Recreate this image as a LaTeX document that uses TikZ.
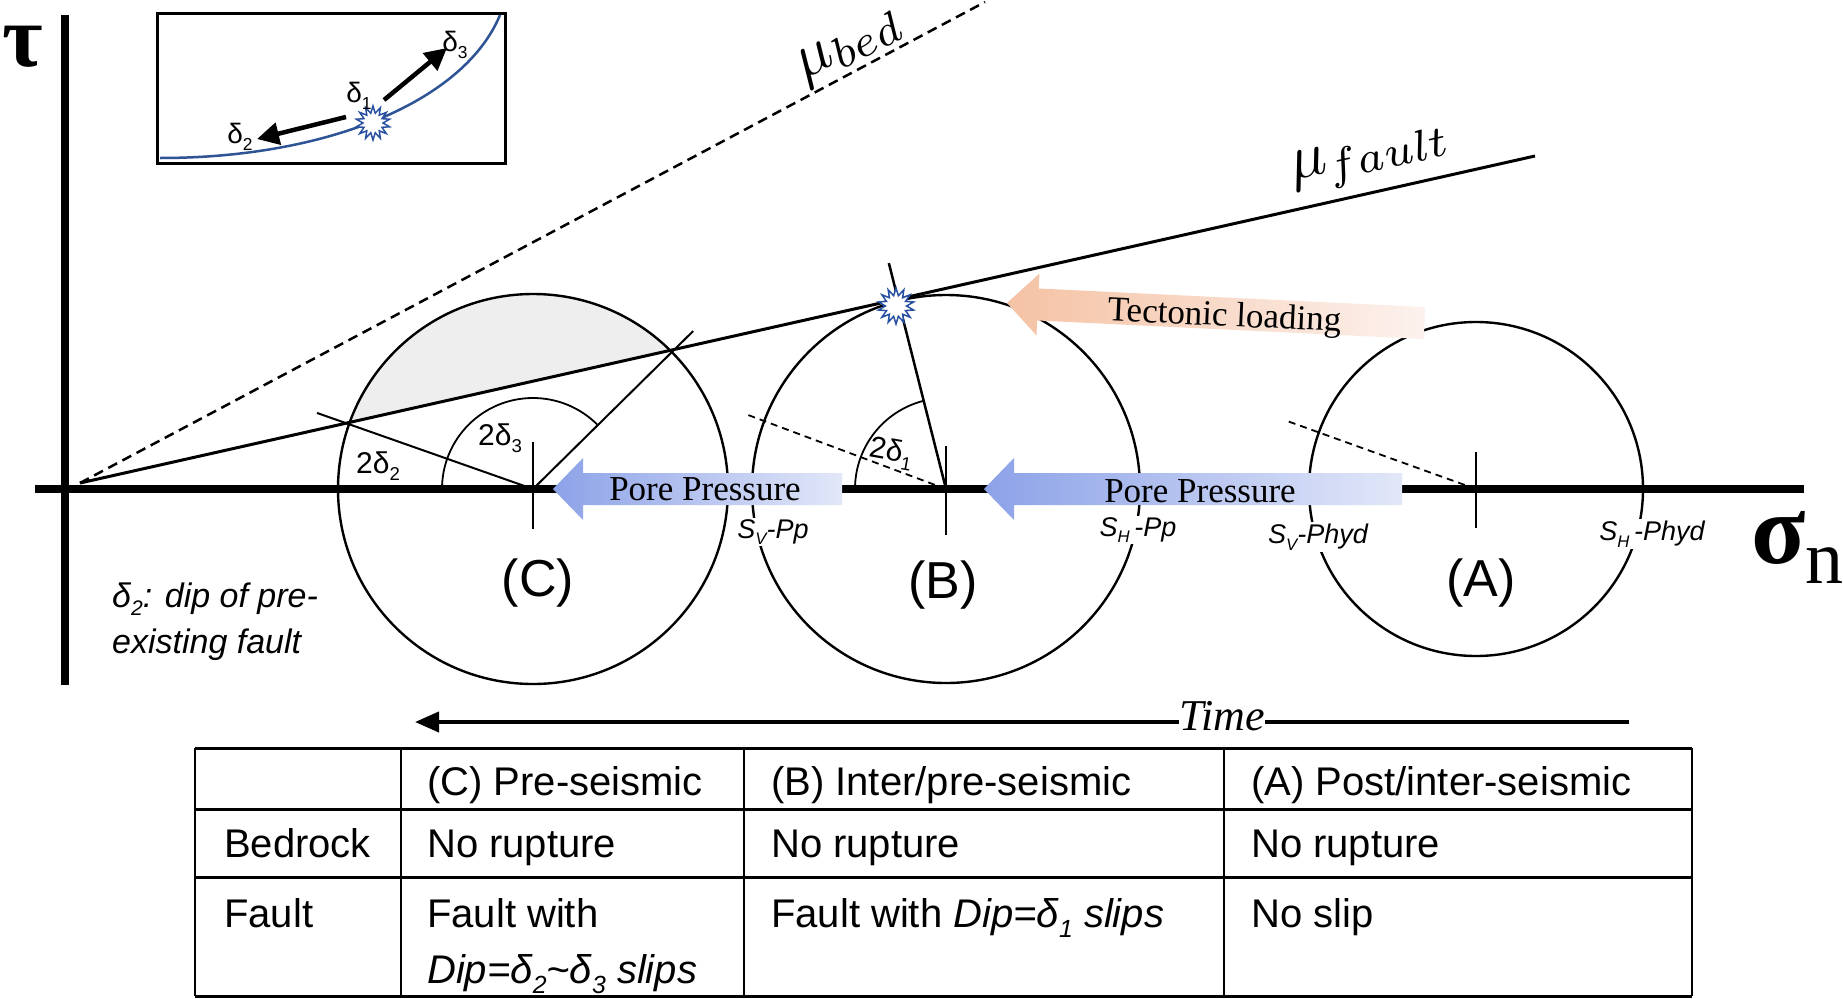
\documentclass[tikz,border=0pt]{standalone}
\usepackage{graphicx}
\usepackage{fontspec}
\setmainfont{Liberation Serif}
\newfontfamily\arialf{Liberation Sans}
\newfontfamily\tnrf{Liberation Serif}
\usetikzlibrary{arrows.meta,shapes.geometric}
\definecolor{ppA}{RGB}{140,162,232}
\definecolor{ppB}{RGB}{226,231,248}
\definecolor{tlA}{RGB}{245,194,164}
\definecolor{tlB}{RGB}{252,242,238}
\definecolor{curveblue}{RGB}{46,84,150}
\definecolor{starblue}{RGB}{40,80,160}
\newcommand\fsz[1]{\fontsize{#1}{#1}\selectfont}
\newcommand\sbx[1]{\raisebox{-0.25em}{\scalebox{0.62}{#1}}}
\begin{document}
\begin{tikzpicture}[x=1pt,y=-1pt,
  axisline/.style={line width=8pt},
  circ/.style={line width=2.4pt},
  thinln/.style={line width=1.8pt},
  dashln/.style={line width=1.8pt, dash pattern=on 7pt off 5pt},
  slabel/.style={font=\arialf\itshape\fsz{27}, fill=white, inner sep=1.5pt},
  plabel/.style={font=\arialf\fsz{52}},
  anglab/.style={font=\arialf\fsz{30}, inner sep=0pt},
  greeklab/.style={font=\arialf\fsz{28}, inner sep=0pt},
  cell/.style={font=\arialf\fsz{40}, anchor=base west, inner sep=0pt},
  tline/.style={line width=3pt},
  vline/.style={line width=2.5pt},
  burst/.style={star, star points=14, star point ratio=1.7, minimum size=36pt, draw=starblue, fill=white, line width=1.5pt, inner sep=0pt},
  arrtext/.style={font=\tnrf\fsz{35}, inner sep=0pt},
  blackarrow/.style={line width=4.5pt, -{Triangle[length=22pt,width=22pt]}},
  mulabel/.style={inner sep=0pt, draw=none},
]
\useasboundingbox (0,0) rectangle (1843,998);
\fill[white] (0,0) rectangle (1843,998);

% key points
\coordinate (O) at (80,483);
\coordinate (Cc) at (533,489);
\coordinate (Bc) at (946,489);
\coordinate (Ac) at (1476,489);

% shaded segment of circle C above the fault line
\fill[gray!13] (Cc) ++(-45:195) arc[start angle=-45, end angle=-160, radius=195] -- cycle;

% axes
\coordinate (xL) at (35,489); \coordinate (xR) at (1804,489);
\coordinate (yT) at (65,15); \coordinate (yB) at (65,685);
\draw[axisline] (xL) -- (xR);
\draw[axisline] (yT) -- (yB);
\node[font=\tnrf\bfseries\fsz{88}, inner sep=0pt] (tau) at (23,47) {τ};
\node[font=\tnrf\bfseries\fsz{100}, inner sep=0pt, anchor=base] (sig) at (1779,563) {σ};
\node[font=\tnrf\fsz{76}, inner sep=0pt, anchor=base west] (sign) at (1805,583) {n};

% friction envelopes
\coordinate (bedEnd) at (985,2);
\coordinate (fltEnd) at (1535,156);
\draw[line width=2.5pt, dash pattern=on 10pt off 6pt] (O) -- (bedEnd);
\draw[line width=3pt] (O) -- (fltEnd);
\node[mulabel, rotate=28] (mubed) at (850,47) {\fsz{10}\scalebox{6.3}{$\mu_{bed}$}};
\node[mulabel, rotate=12.7] (mufault) at (1371,158) {\fsz{10}\scalebox{6.3}{$\mu_{fault}$}};

% Mohr circles
\draw[circ] (Cc) circle[radius=195];
\draw[circ] (Bc) circle[radius=194];
\draw[circ] (Ac) circle[radius=167];

% radial lines
\draw[line width=2pt] (Cc) -- ++(-160.6:229) coordinate (Cd2);
\draw[line width=2pt] (Cc) -- ++(-44.6:225) coordinate (Cd3);
\draw[line width=2.5pt] (Bc) -- ++(-104.2:233) coordinate (Bd1);
\draw[dashln] (Bc) -- ++(-159.5:214) coordinate (Bdash);
\draw[dashln] (Ac) -- ++(-160.2:201) coordinate (Adash);

% angle arcs
\draw[thinln] (Cc) ++(-180:91) arc[start angle=-180, end angle=-45, radius=91];
\draw[thinln] (Bc) ++(-180:91) arc[start angle=-180, end angle=-104.2, radius=91];

% centre ticks
\draw[thinln] (Cc) ++(0,-47) -- ++(0,87);
\draw[thinln] (Bc) ++(0,-43) -- ++(0,89);
\draw[thinln] (Ac) ++(0,-37) -- ++(0,76);

% angle labels
\node[anglab] (l2d2) at (378,466) {2δ\sbx{2}};
\node[anglab] (l2d3) at (500,438) {2δ\sbx{3}};
\node[anglab, rotate=-10] (l2d1) at (891,453) {2δ\sbx{1}};

% stress labels (white background cuts the circles)
\node[slabel] (svpp) at (773,532) {S\sbx{V}-Pp};
\node[slabel] (shpp) at (1138,530) {S\sbx{H}\,-Pp};
\node[slabel] (svph) at (1318,537) {S\sbx{V}-Phyd};
\node[slabel] (shph) at (1652,534) {S\sbx{H}\,-Phyd};

% circle names
\node[plabel] (labC) at (538,583) {(C)};
\node[plabel] (labB) at (943,585) {(B)};
\node[plabel] (labA) at (1481,583) {(A)};

% pore pressure arrows
\shade[left color=ppA, right color=ppB] (553,489) -- (583,458) -- (583,473) -- (842,473) -- (842,505) -- (583,505) -- (583,520) -- cycle;
\shade[left color=ppA, right color=ppB] (984,489) -- (1014,458) -- (1014,473) -- (1402,473) -- (1402,505) -- (1014,505) -- (1014,520) -- cycle;
\node[arrtext] (pp1) at (705,489) {Pore Pressure};
\node[arrtext] (pp2) at (1200,491) {Pore Pressure};

% tectonic loading arrow
\begin{scope}[shift={(1007,303)}, rotate=-2.75]
\shade[left color=tlA, right color=tlB] (0,0) -- (31,-31) -- (31,-16) -- (418,-16) -- (418,16) -- (31,16) -- (31,31) -- cycle;
\end{scope}
\node[arrtext, anchor=base, rotate=-2.75] (tl) at (1224,326) {Tectonic loading};

% failure point
\node[burst] (starB) at (896,306) {};

% note
\node[font=\arialf\itshape\fsz{34}, anchor=base west, inner sep=0pt] (note1) at (112,607) {δ\sbx{2}: dip of pre-};
\node[font=\arialf\itshape\fsz{34}, anchor=base west, inner sep=0pt] (note2) at (112,653) {existing fault};

% inset
\draw[line width=3pt] (157,14) rectangle (505,163);
\draw[curveblue, line width=2.5pt] (160,158) .. controls (330,158) and (465,100) .. (500,15);
\node[burst, minimum size=34pt] (starI) at (373,123) {};
\coordinate (d3s) at (384,100); \coordinate (d3e) at (447,48);
\coordinate (d2s) at (346,117); \coordinate (d2e) at (257,139);
\draw[blackarrow] (d3s) -- (d3e);
\draw[blackarrow] (d2s) -- (d2e);
\node[greeklab] (gd3) at (455,45) {δ\sbx{3}};
\node[greeklab] (gd1) at (359,96) {δ\sbx{1}};
\node[greeklab] (gd2) at (240,137) {δ\sbx{2}};

% time arrow
\coordinate (tR) at (1629,722); \coordinate (tL) at (415,722);
\draw[line width=4pt, -{Triangle[length=24pt,width=20pt]}] (tR) -- (tL);
\node[font=\tnrf\itshape\fsz{44}, fill=white, inner sep=0.5pt, anchor=base] (time) at (1222,730) {Time};

% table
\draw[tline] (195,748) -- (1692,748);
\draw[tline] (195,809) -- (1692,809);
\draw[tline] (195,877) -- (1692,877);
\draw[tline] (195,996) -- (1692,996);
\foreach \cx in {195,401,744,1224,1692} {\draw[vline] (\cx,748) -- (\cx,996);}
\node[cell] (h1) at (427,795) {(C) Pre-seismic};
\node[cell] (h2) at (771,795) {(B) Inter/pre-seismic};
\node[cell] (h3) at (1251,795) {(A) Post/inter-seismic};
\node[cell] (r1) at (224,857) {Bedrock};
\node[cell] (r1c) at (427,857) {No rupture};
\node[cell] (r1b) at (771,857) {No rupture};
\node[cell] (r1a) at (1251,857) {No rupture};
\node[cell] (r2) at (224,927) {Fault};
\node[cell] (r2c) at (427,927) {Fault with};
\node[cell] (r2c2) at (427,983) {\itshape Dip=δ\sbx{2}\textasciitilde δ\sbx{3} slips};
\node[cell] (r2b) at (771,927) {Fault with \itshape Dip=δ\sbx{1} slips};
\node[cell] (r2a) at (1251,927) {No slip};
\end{tikzpicture}
\end{document}
